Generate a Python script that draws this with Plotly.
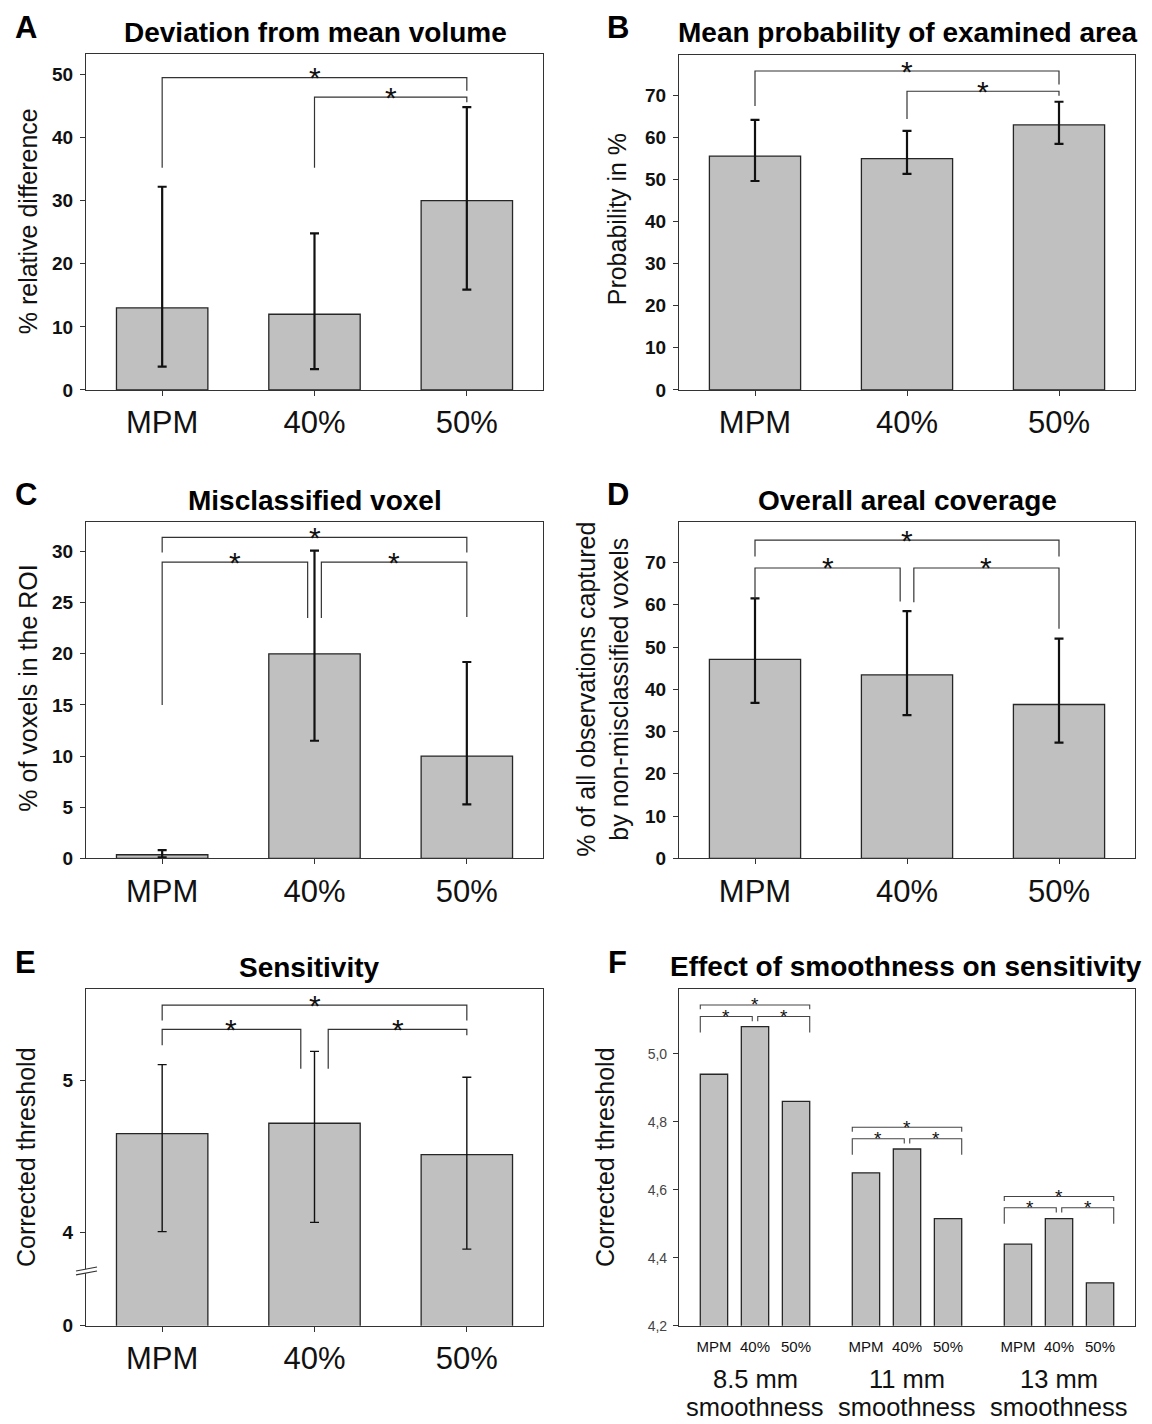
import plotly.graph_objects as go

W, H = 1152, 1424
FONT = "Liberation Sans, Arial, Helvetica, sans-serif"

CATS = ["MPM", "40%", "50%"]

# Panel A: Deviation from mean volume
A_MEAN = [13.0, 12.0, 30.0]
A_UP = [32.2, 24.8, 44.8]
A_LOW = [3.7, 3.3, 15.9]
# Panel B: Mean probability of examined area
B_MEAN = [55.5, 54.9, 62.9]
B_UP = [64.1, 61.5, 68.4]
B_LOW = [49.6, 51.3, 58.4]
# Panel C: Misclassified voxel
C_MEAN = [0.35, 20.0, 10.0]
C_UP = [0.8, 30.1, 19.2]
C_LOW = [0.1, 11.5, 5.27]
# Panel D: Overall areal coverage
D_MEAN = [47.1, 43.4, 36.4]
D_UP = [61.5, 58.5, 52.0]
D_LOW = [36.8, 33.9, 27.4]
# Panel E: Sensitivity
E_MEAN = [4.651, 4.72, 4.513]
E_UP = [5.107, 5.194, 5.024]
E_LOW = [4.005, 4.066, 3.889]
E_TICKS = [4, 5]
E_TICK_TEXT = ["0", "4", "5"]
# Panel F: Effect of smoothness on sensitivity
F_GROUPS = ["8.5 mm", "11 mm", "13 mm"]
F_GROUP_SUB = "smoothness"
F_MPM = [4.94, 4.65, 4.44]
F_40 = [5.08, 4.72, 4.515]
F_50 = [4.86, 4.515, 4.326]
F_TICKS = [4.2, 4.4, 4.6, 4.8, 5.0]
F_TICK_TEXT = ["4,2", "4,4", "4,6", "4,8", "5,0"]

# significance brackets: (x_left, x_right, y_bar, y_left_leg_end, y_right_leg_end)
A_BR = [(0, 2, 49.5, 35.2, 47.4), (1, 2, 46.4, 35.2, 45.6)]
B_BR = [(0, 2, 75.7, 67.4, 72.5), (1, 2, 70.9, 64.3, 69.8)]
C_BR = [(0, 2, 31.4, 29.9, 29.9), (0, 0.955, 28.96, 15.0, 23.5), (1.045, 2, 28.96, 23.5, 23.6)]
D_BR = [(0, 2, 75.3, 71.4, 71.4), (0, 0.955, 68.7, 61.4, 60.8), (1.045, 2, 68.7, 60.6, 54.3)]
E_BR = [(0, 2, 5.50, 5.398, 5.398), (0, 0.91, 5.339, 5.234, 5.08), (1.09, 2, 5.339, 5.08, 5.30)]
F_BR_TOP = [5.144, 4.784, 4.58]
F_BR_MID = [5.11, 4.75, 4.547]

BAR_FILL = "#c0c0c0"
EDGE = "#262626"
BOX = "#333333"


def px(x):
    return x / W


def py(y):
    return 1 - y / H


# plot-area boxes in pixels (left, right, top, bottom)
BOXES = [
    (86, 543, 54, 393),
    (679, 1135, 55, 393),
    (86, 543, 526, 865),
    (679, 1135, 526, 865),
    (86, 543, 997, 1336),
    (679, 1135, 997, 1336),
]
YRANGES = [[0, 53.3], [0, 79.6], [0, 32.9], [0, 79.6], [3.384, 5.604], [4.2, 5.19]]

fig = go.Figure()
layout = dict(
    width=W, height=H, autosize=False,
    margin=dict(l=0, r=0, t=0, b=0),
    paper_bgcolor="white", plot_bgcolor="white",
    showlegend=False, font=dict(family=FONT, color="#111"),
)
annotations = []
shapes = []


def axname(i):
    return ("x", "y") if i == 1 else (f"x{i}", f"y{i}")


for i, (l, r, t, b) in enumerate(BOXES, start=1):
    xa, ya = axname(i)
    key_x = "xaxis" if i == 1 else f"xaxis{i}"
    key_y = "yaxis" if i == 1 else f"yaxis{i}"
    layout[key_x] = dict(
        domain=[px(l), px(r)], anchor=ya, range=[-0.5, 2.5],
        showline=True, mirror=True, linecolor=BOX, linewidth=1.2,
        showgrid=False, zeroline=False, ticks="outside", ticklen=5,
        tickcolor=BOX, tickwidth=1.2,
        tickvals=[0, 1, 2], ticktext=CATS,
        tickfont=dict(size=31, color="#111"), ticklabelstandoff=0,
    )
    layout[key_y] = dict(
        domain=[py(b), py(t)], anchor=xa, range=YRANGES[i - 1],
        showline=True, mirror=True, linecolor=BOX, linewidth=1.2,
        showgrid=False, zeroline=False, ticks="outside", ticklen=5,
        tickcolor=BOX, tickwidth=1.2,
        tickfont=dict(size=19, color="#111", weight="bold"),
        ticklabelstandoff=3,
    )

layout["yaxis"]["dtick"] = 10
layout["yaxis2"]["dtick"] = 10
layout["yaxis3"]["dtick"] = 5
layout["yaxis4"]["dtick"] = 10
layout["yaxis5"]["tickvals"] = [YRANGES[4][0]] + E_TICKS
layout["yaxis5"]["ticktext"] = E_TICK_TEXT
layout["yaxis6"]["tickvals"] = F_TICKS
layout["yaxis6"]["ticktext"] = F_TICK_TEXT
layout["yaxis6"]["tickfont"] = dict(size=14, color="#444")


def add_bar_panel(i, mean, up, low, thick):
    xa, ya = axname(i)
    fig.add_trace(go.Bar(
        x=[0, 1, 2], y=mean, width=0.6, xaxis=xa, yaxis=ya,
        marker=dict(color=BAR_FILL, line=dict(color=EDGE, width=1.3)),
        error_y=dict(type="data", symmetric=False,
                     array=[u - m for u, m in zip(up, mean)],
                     arrayminus=[m - lo for m, lo in zip(mean, low)],
                     color="#111", thickness=thick, width=4.5),
    ))


def add_bracket(i, x1, x2, yb, yl, yr, star_size=30, color=BOX, lw=1.2, yshift=0):
    xa, ya = axname(i)
    fig.add_trace(go.Scatter(
        x=[x1, x1, x2, x2], y=[yl, yb, yb, yr], mode="lines",
        line=dict(color=color, width=lw), xaxis=xa, yaxis=ya,
        hoverinfo="skip",
    ))
    annotations.append(dict(
        x=(x1 + x2) / 2, y=yb, xref=xa, yref=ya, text="*", showarrow=False,
        yanchor="middle", yshift=yshift, font=dict(size=star_size, color="#111"),
    ))


panel_data = [
    (A_MEAN, A_UP, A_LOW, A_BR, 2.2),
    (B_MEAN, B_UP, B_LOW, B_BR, 2.2),
    (C_MEAN, C_UP, C_LOW, C_BR, 2.2),
    (D_MEAN, D_UP, D_LOW, D_BR, 2.2),
    (E_MEAN, E_UP, E_LOW, E_BR, 1.4),
]
for i, (m, u, lo, br, th) in enumerate(panel_data, start=1):
    add_bar_panel(i, m, u, lo, th)
    for (x1, x2, yb, yl, yr) in br:
        add_bracket(i, x1, x2, yb, yl, yr)

# Panel F: grouped bars
F_STEP = 0.27
F_W = 0.18
f_x, f_y, f_txt = [], [], []
for g in range(3):
    for k, vals in enumerate([F_MPM, F_40, F_50]):
        f_x.append(g + (k - 1) * F_STEP)
        f_y.append(vals[g])
        f_txt.append(CATS[k])
fig.add_trace(go.Bar(
    x=f_x, y=f_y, width=F_W, xaxis="x6", yaxis="y6",
    marker=dict(color=BAR_FILL, line=dict(color=EDGE, width=1.3)),
))
layout["xaxis6"]["tickvals"] = f_x
layout["xaxis6"]["ticktext"] = f_txt
layout["xaxis6"]["ticks"] = ""
layout["xaxis6"]["tickfont"] = dict(size=15, color="#111")
layout["xaxis6"]["ticklabelstandoff"] = 7

edge = F_STEP + F_W / 2
for g in range(3):
    top, mid = F_BR_TOP[g], F_BR_MID[g]
    add_bracket(6, g - edge, g + edge, top, top - 0.013, top - 0.013, 19, "#444", 1.1, 0)
    add_bracket(6, g - edge, g - 0.018, mid, mid - 0.047, mid - 0.014, 19, "#444", 1.1, 0)
    add_bracket(6, g + 0.018, g + edge, mid, mid - 0.014, mid - 0.047, 19, "#444", 1.1, 0)
    annotations.append(dict(
        x=g, y=py(1390), xref="x6", yref="paper", text=F_GROUPS[g],
        showarrow=False, yanchor="middle", font=dict(size=25.5, color="#111"),
    ))
    annotations.append(dict(
        x=g, y=0, xref="x6", yref="paper", text=F_GROUP_SUB,
        showarrow=False, yanchor="bottom", borderpad=0, yshift=-9,
        font=dict(size=25.5, color="#111"),
    ))

# titles, panel letters, y-axis titles
TITLES = ["Deviation from mean volume", "Mean probability of examined area",
          "Misclassified voxel", "Overall areal coverage", "Sensitivity",
          "Effect of smoothness on sensitivity"]
TITLE_POS = [(315, 33), (907, 33), (315, 504), (907, 504), (309, 975), (906, 974)]
LETTERS = ["A", "B", "C", "D", "E", "F"]
LETTER_POS = [(26, 28), (618, 28), (26, 498), (618, 498), (25, 970), (617, 970)]
YTITLES = ["% relative difference", "Probability in %", "% of voxels in the ROI",
           "% of all observations captured<br>by non-misclassified voxels",
           "Corrected threshold", "Corrected threshold"]
YTITLE_POS = [(28, 223), (617, 221), (28, 694), (603, 695), (26, 1166), (605, 1166)]

for t, (x, y) in zip(TITLES, TITLE_POS):
    annotations.append(dict(x=px(x), y=py(y), xref="paper", yref="paper", text=t,
                            showarrow=False, xanchor="center", yanchor="middle",
                            font=dict(size=28, color="#000", weight="bold")))
for t, (x, y) in zip(LETTERS, LETTER_POS):
    annotations.append(dict(x=px(x), y=py(y), xref="paper", yref="paper", text=t,
                            showarrow=False, xanchor="center", yanchor="middle",
                            font=dict(size=31, color="#000", weight="bold")))
for t, (x, y) in zip(YTITLES, YTITLE_POS):
    annotations.append(dict(x=px(x), y=py(y), xref="paper", yref="paper", text=t,
                            showarrow=False, xanchor="center", yanchor="middle",
                            textangle=-90, font=dict(size=25, color="#111")))

# axis break marks on panel E
BREAK_Y = 3.745
d = (YRANGES[4][1] - YRANGES[4][0]) / (BOXES[4][3] - BOXES[4][2])  # value per px
bx0, bx1 = px(76), px(97)
lo0, lo1 = BREAK_Y - 4 * d, BREAK_Y + 0 * d
up0, up1 = BREAK_Y + 0 * d, BREAK_Y + 4 * d
shapes.append(dict(type="path", xref="paper", yref="y5",
                   path=f"M {bx0},{lo0} L {bx1},{lo1} L {bx1},{up1} L {bx0},{up0} Z",
                   fillcolor="white", line=dict(width=0), layer="above"))
for (a0, a1) in [(lo0, lo1), (up0, up1)]:
    shapes.append(dict(type="line", xref="paper", yref="y5", x0=bx0, x1=bx1,
                       y0=a0, y1=a1, line=dict(color=BOX, width=1.2), layer="above"))

layout["annotations"] = annotations
layout["shapes"] = shapes
fig.update_layout(**layout)

fig.write_html("out.html", config={"displayModeBar": False},
               post_script="document.body.style.margin='0';")
